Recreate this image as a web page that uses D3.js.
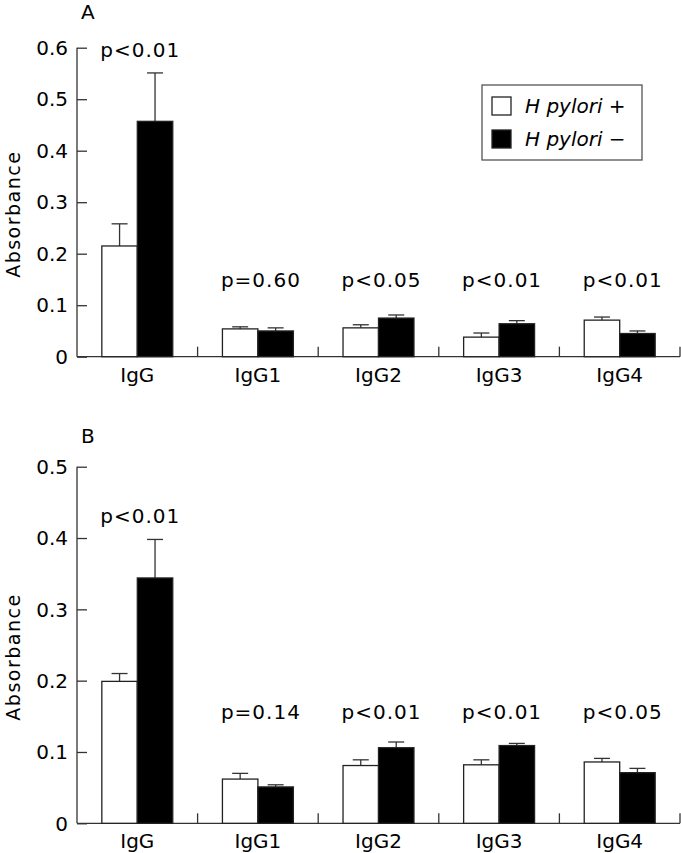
<!DOCTYPE html>
<html>
<head>
<meta charset="utf-8">
<script src="https://cdn.jsdelivr.net/npm/d3@7"></script>
<style>
  html, body { margin: 0; padding: 0; background: #fff; }
  svg { display: block; font-family: "DejaVu Sans", sans-serif; }
</style>
</head>
<body>
<svg id="chart" width="681" height="853"></svg>
<script>
// categories and groups
const categories = ["IgG", "IgG1", "IgG2", "IgG3", "IgG4"];
const groups = ["pos", "neg"];
const legendLabels = ["H pylori +", "H pylori \u2212"];

// panel A values (mean and upper error)
const aPos = [0.215, 0.054, 0.056, 0.038, 0.071];
const aPosErr = [0.043, 0.004, 0.006, 0.008, 0.006];
const aNeg = [0.457, 0.050, 0.075, 0.064, 0.045];
const aNegErr = [0.094, 0.006, 0.006, 0.006, 0.005];
const aP = ["p<0.01", "p=0.60", "p<0.05", "p<0.01", "p<0.01"];
const aTicks = [0, 0.1, 0.2, 0.3, 0.4, 0.5, 0.6];

// panel B values
const bPos = [0.199, 0.062, 0.081, 0.082, 0.086];
const bPosErr = [0.011, 0.008, 0.008, 0.007, 0.005];
const bNeg = [0.344, 0.051, 0.106, 0.109, 0.071];
const bNegErr = [0.054, 0.003, 0.008, 0.003, 0.006];
const bP = ["p<0.01", "p=0.14", "p<0.01", "p<0.01", "p<0.05"];
const bTicks = [0, 0.1, 0.2, 0.3, 0.4, 0.5];

const svg = d3.select("#chart");
const axisColor = "#333";
const left = 77, right = 680;

const x0 = d3.scaleBand().domain(categories).range([left, right]);
const x1 = d3.scaleBand().domain(groups)
    .range([0, x0.bandwidth()])
    .paddingInner(0)
    .paddingOuter(0.7);

const tickFmt = d => d === 0 ? "0" : d3.format(".1f")(d);

/**
 * Draw one bar panel.
 */
function drawPanel(opt) {
    const y = d3.scaleLinear().domain([0, opt.max]).range([opt.bottom, opt.top]);
    const g = svg.append("g");

    // panel letter
    g.append("text")
        .attr("x", 81)
        .attr("y", opt.letterY)
        .attr("font-size", 20)
        .text(opt.letter);

    // y title
    g.append("text")
        .attr("transform", `translate(20,${(opt.top + opt.bottom) / 2 + 12}) rotate(-90)`)
        .attr("text-anchor", "middle")
        .attr("font-size", 19)
        .attr("letter-spacing", 1.5)
        .text("Absorbance");

    // y axis, ticks inward
    const yAxis = d3.axisRight(y)
        .tickValues(opt.ticks)
        .tickSize(10)
        .tickFormat("");
    const ya = g.append("g").attr("transform", `translate(${left},0)`).call(yAxis);
    ya.select(".domain").attr("d", `M0,${opt.top}V${opt.bottom}`);
    ya.selectAll("path, line").attr("stroke", axisColor).attr("stroke-width", 1.3);
    g.selectAll(".ytl")
        .data(opt.ticks)
        .enter().append("text")
        .attr("class", "ytl")
        .attr("x", 68)
        .attr("y", d => y(d))
        .attr("dy", "0.36em")
        .attr("text-anchor", "end")
        .attr("font-size", 20)
        .text(tickFmt);

    // x axis with separator ticks upward
    g.append("line")
        .attr("x1", left).attr("x2", right)
        .attr("y1", opt.bottom).attr("y2", opt.bottom)
        .attr("stroke", axisColor).attr("stroke-width", 1.3);
    g.selectAll(".sep")
        .data(categories)
        .enter().append("line")
        .attr("x1", d => x0(d) + x0.bandwidth())
        .attr("x2", d => x0(d) + x0.bandwidth())
        .attr("y1", opt.bottom)
        .attr("y2", opt.bottom - 10)
        .attr("stroke", axisColor).attr("stroke-width", 1.3);
    g.selectAll(".xtl")
        .data(categories)
        .enter().append("text")
        .attr("x", d => x0(d) + x0.bandwidth() / 2)
        .attr("y", opt.bottom + 25)
        .attr("text-anchor", "middle")
        .attr("font-size", 20)
        .text(d => d);

    // bars
    const rows = categories.map((c, i) => groups.map(k => ({
        cat: c, key: k, i: i,
        v: k === "pos" ? opt.pos[i] : opt.neg[i],
        e: k === "pos" ? opt.posErr[i] : opt.negErr[i]
    })));
    const cat = g.selectAll(".cat")
        .data(rows)
        .enter().append("g")
        .attr("transform", (d, i) => `translate(${x0(categories[i])},0)`);
    const bar = cat.selectAll(".bar")
        .data(d => d)
        .enter().append("g");
    // error bars
    bar.append("line")
        .attr("x1", d => x1(d.key) + x1.bandwidth() / 2)
        .attr("x2", d => x1(d.key) + x1.bandwidth() / 2)
        .attr("y1", d => y(d.v))
        .attr("y2", d => y(d.v + d.e))
        .attr("stroke", axisColor).attr("stroke-width", 1.3);
    bar.append("line")
        .attr("x1", d => x1(d.key) + x1.bandwidth() / 2 - 8)
        .attr("x2", d => x1(d.key) + x1.bandwidth() / 2 + 8)
        .attr("y1", d => y(d.v + d.e))
        .attr("y2", d => y(d.v + d.e))
        .attr("stroke", axisColor).attr("stroke-width", 1.3);
    bar.append("rect")
        .attr("x", d => x1(d.key))
        .attr("width", x1.bandwidth())
        .attr("y", d => y(d.v))
        .attr("height", d => opt.bottom - y(d.v))
        .attr("fill", d => d.key === "pos" ? "#fff" : "#000")
        .attr("stroke", "#222")
        .attr("stroke-width", 1.3);

    // p values
    g.selectAll(".pv")
        .data(opt.p)
        .enter().append("text")
        .attr("x", (d, i) => x0(categories[i]) + x0.bandwidth() / 2 + 3)
        .attr("y", (d, i) => i === 0 ? y(opt.neg[0] + opt.negErr[0]) - 16 : opt.pY)
        .attr("text-anchor", "middle")
        .attr("font-size", 20)
        .attr("letter-spacing", 1)
        .text(d => d);
}

drawPanel({
    letter: "A", letterY: 19, top: 47.7, bottom: 356.7, max: 0.6, ticks: aTicks,
    pos: aPos, posErr: aPosErr, neg: aNeg, negErr: aNegErr, p: aP, pY: 287
});
drawPanel({
    letter: "B", letterY: 443, top: 466.7, bottom: 823.3, max: 0.5, ticks: bTicks,
    pos: bPos, posErr: bPosErr, neg: bNeg, negErr: bNegErr, p: bP, pY: 719
});

// legend
const legend = svg.append("g").attr("transform", "translate(482,85)");
legend.append("rect")
    .attr("width", 160).attr("height", 75)
    .attr("fill", "#fff")
    .attr("stroke", "#555").attr("stroke-width", 1.3);
const item = legend.selectAll(".item")
    .data(groups)
    .enter().append("g")
    .attr("transform", (d, i) => `translate(10,${12 + i * 33})`);
item.append("rect")
    .attr("width", 19).attr("height", 18)
    .attr("fill", d => d === "pos" ? "#fff" : "#000")
    .attr("stroke", "#222").attr("stroke-width", 1.3);
item.append("text")
    .attr("x", 33).attr("y", 16)
    .attr("font-size", 20)
    .attr("font-style", "italic")
    .text((d, i) => legendLabels[i]);
</script>
</body>
</html>
